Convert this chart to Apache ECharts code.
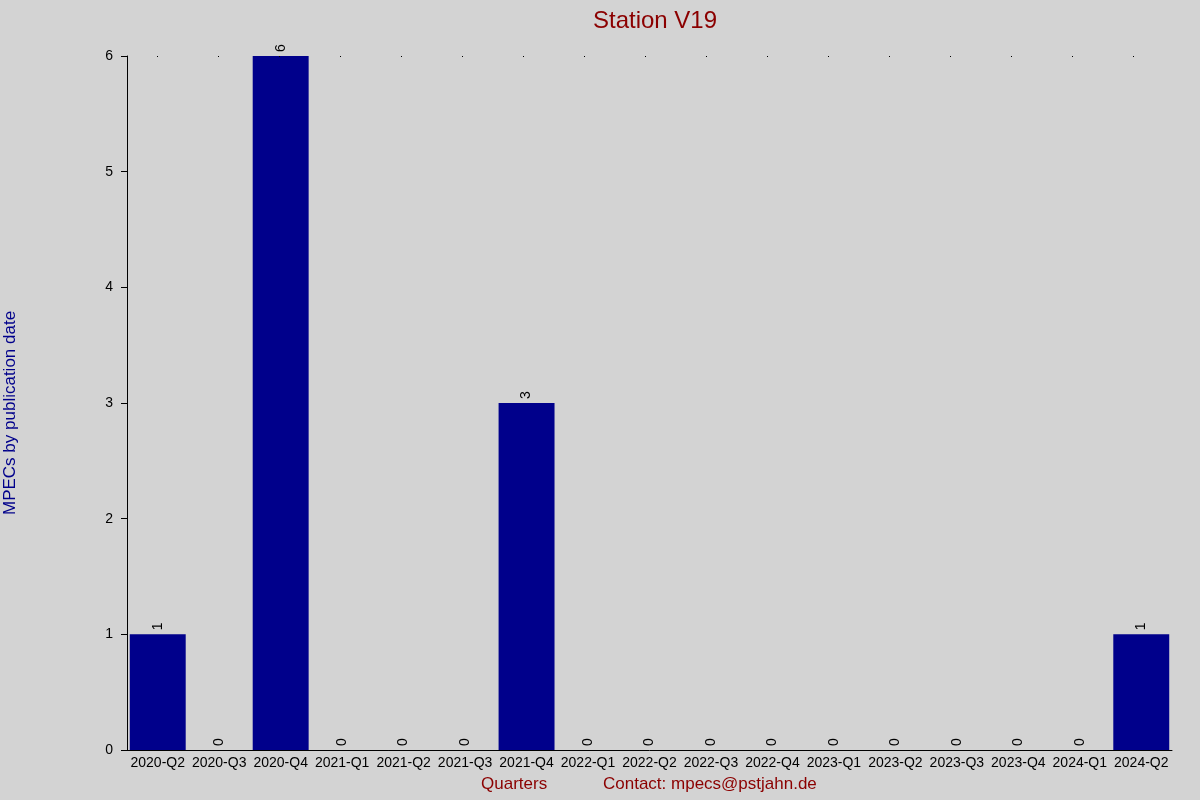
<!DOCTYPE html>
<html><head><meta charset="utf-8">
<script src="https://cdn.jsdelivr.net/npm/echarts@6/dist/echarts.min.js"></script>
<style>html,body{margin:0;padding:0;background:#d3d3d3}#c{width:1200px;height:800px}</style>
</head><body><div id="c"></div>
<script>
const categories = ["2020-Q2","2020-Q3","2020-Q4","2021-Q1","2021-Q2","2021-Q3","2021-Q4","2022-Q1","2022-Q2","2022-Q3","2022-Q4","2023-Q1","2023-Q2","2023-Q3","2023-Q4","2024-Q1","2024-Q2"];
const values = [1,0,6,0,0,0,3,0,0,0,0,0,0,0,0,0,1];
const chart = echarts.init(document.getElementById('c'));
const F = 'Liberation Sans, Arial, sans-serif';
chart.setOption({
  backgroundColor:'#d3d3d3',
  animation:false,
  title:{text:'Station V19',left:650,top:4,textAlign:'center',textStyle:{color:'#8b0000',fontSize:24,fontWeight:'normal',fontFamily:F}},
  graphic:[
    {type:'text',left:481,top:776,style:{text:'Quarters',fill:'#8b0000',font:'17px '+F}},
    {type:'text',left:603,top:776,style:{text:'Contact: mpecs@pstjahn.de',fill:'#8b0000',font:'17px '+F}},
    {type:'text',rotation:Math.PI/2,x:2,y:515,style:{text:'MPECs by publication date',fill:'#00008b',font:'17px '+F}}
  ],
  grid:{left:127,right:28,top:56,bottom:50},
  xAxis:{type:'category',data:categories,
    axisLine:{lineStyle:{color:'#000'}},axisTick:{show:false},
    axisLabel:{interval:0,color:'#000',fontSize:14,fontFamily:F,margin:6}},
  yAxis:{type:'value',min:0,max:6,interval:1,
    axisLine:{show:true,lineStyle:{color:'#000'}},axisTick:{show:true,length:6,lineStyle:{color:'#000'}},
    splitLine:{show:false},
    axisLabel:{color:'#000',fontSize:14,fontFamily:F,margin:14}},
  series:[{type:'bar',data:values,barCategoryGap:'9%',
    itemStyle:{color:'#00008b'},
    label:{show:true,position:'top',rotate:90,align:'left',verticalAlign:'middle',distance:4,color:'#000',fontSize:14,fontFamily:F},
    markLine:{silent:true,symbol:'none',label:{show:false},lineStyle:{color:'#000',type:[1,60],width:1,dashOffset:-30},data:[{yAxis:6}]}
  }]
});
</script></body></html>
